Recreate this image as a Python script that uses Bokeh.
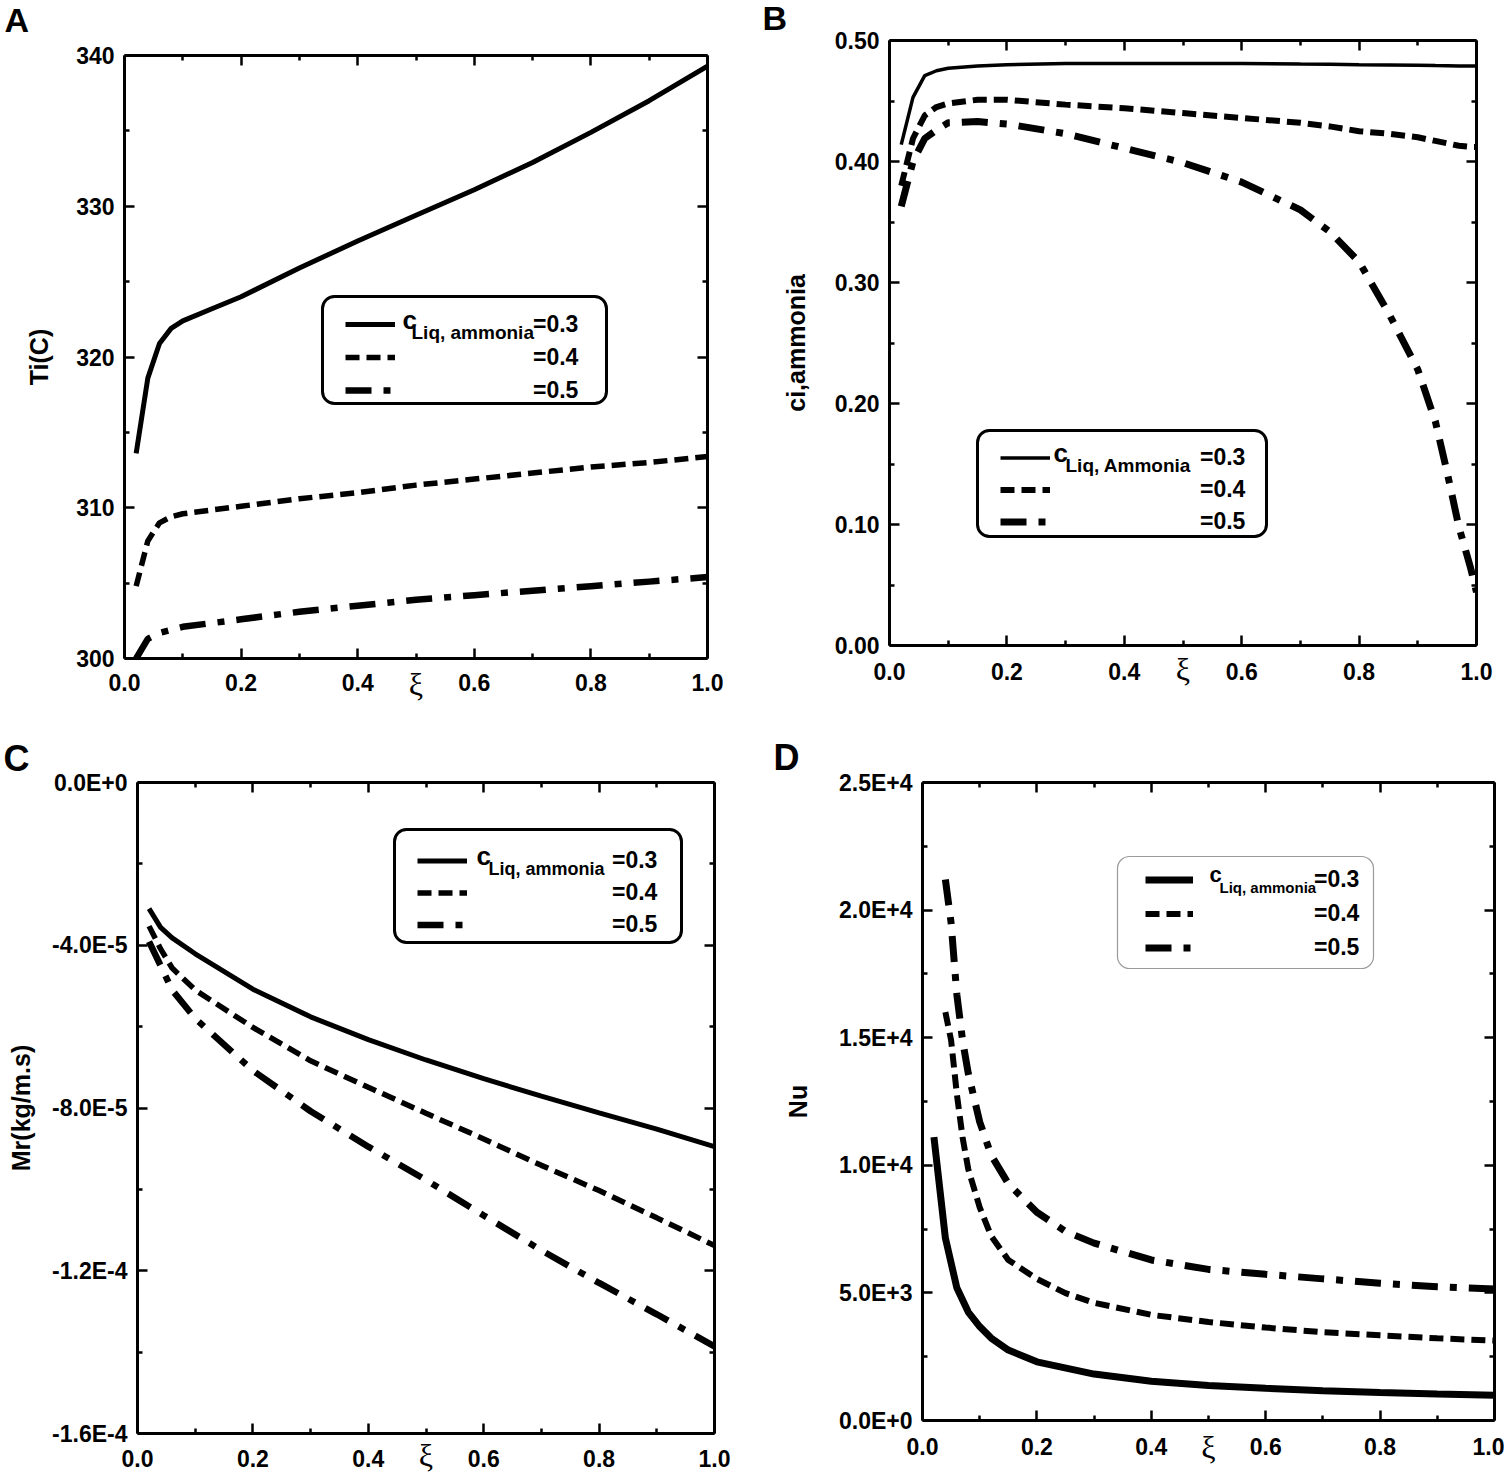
from bokeh.plotting import figure
from bokeh.layouts import column, row
from bokeh.models import (Range1d, FixedTicker, CustomJSTickFormatter, LinearAxis,
                          Legend, LegendItem, Label, BoxAnnotation)
from bokeh.embed import file_html
from bokeh.resources import INLINE

SANS = "Liberation Sans"
SERIF = "Liberation Serif"

# ---- data ----
# (A) interface temperature Ti(C)
xi_a = [0.02, 0.04, 0.06, 0.08, 0.1, 0.15, 0.2, 0.3, 0.4, 0.5, 0.6, 0.7, 0.8, 0.9, 1.0]
ti_03 = [313.6, 318.6, 320.9, 321.9, 322.4, 323.2, 324.0, 325.9, 327.7, 329.4, 331.1, 332.9, 334.9, 337.0, 339.3]
ti_04 = [304.8, 307.8, 309.0, 309.4, 309.6, 309.85, 310.1, 310.6, 311.0, 311.5, 311.9, 312.3, 312.7, 313.0, 313.4]
ti_05 = [300.0, 301.3, 301.7, 301.9, 302.1, 302.35, 302.6, 303.1, 303.5, 303.9, 304.2, 304.5, 304.8, 305.1, 305.4]

# (B) interface ammonia concentration
xi_b = [0.02, 0.04, 0.06, 0.08, 0.1, 0.15, 0.2, 0.3, 0.4, 0.5, 0.6, 0.7, 0.75, 0.8, 0.85, 0.9,
        0.93, 0.95, 0.97, 0.99, 1.0]
ci_03 = [0.414, 0.453, 0.471, 0.475, 0.477, 0.479, 0.480, 0.481, 0.481, 0.481, 0.481, 0.4805, 0.4803,
         0.480, 0.4798, 0.4795, 0.4793, 0.4792, 0.479, 0.479, 0.479]
ci_04 = [0.380, 0.419, 0.438, 0.445, 0.448, 0.451, 0.451, 0.447, 0.444, 0.440, 0.436, 0.432, 0.429,
         0.425, 0.423, 0.420, 0.417, 0.415, 0.413, 0.412, 0.412]
ci_05 = [0.363, 0.400, 0.419, 0.426, 0.432, 0.433, 0.431, 0.423, 0.411, 0.399, 0.383, 0.360, 0.342,
         0.317, 0.275, 0.228, 0.185, 0.143, 0.098, 0.064, 0.044]

# (C) mass flux Mr
xi_c = [0.02, 0.04, 0.06, 0.1, 0.2, 0.3, 0.4, 0.5, 0.6, 0.7, 0.8, 0.9, 1.0]
mr_03 = [-3.10e-5, -3.56e-5, -3.82e-5, -4.21e-5, -5.08e-5, -5.76e-5, -6.32e-5, -6.82e-5, -7.28e-5,
         -7.71e-5, -8.12e-5, -8.52e-5, -8.95e-5]
mr_04 = [-3.53e-5, -4.09e-5, -4.56e-5, -5.10e-5, -6.02e-5, -6.84e-5, -7.49e-5, -8.13e-5, -8.76e-5,
         -9.41e-5, -1.003e-4, -1.070e-4, -1.138e-4]
mr_05 = [-3.91e-5, -4.50e-5, -5.10e-5, -5.80e-5, -7.08e-5, -8.08e-5, -8.95e-5, -9.77e-5, -1.064e-4,
         -1.150e-4, -1.230e-4, -1.307e-4, -1.386e-4]

# (D) Nusselt number
xi_d1 = [0.02, 0.04, 0.06, 0.08, 0.1, 0.12, 0.15, 0.2, 0.3, 0.4, 0.5, 0.6, 0.7, 0.8, 0.9, 1.0]
nu_03 = [11100, 7150, 5200, 4250, 3680, 3230, 2760, 2300, 1820, 1540, 1370, 1260, 1170, 1100, 1040, 990]
xi_d2 = [0.04, 0.05, 0.06, 0.07, 0.08, 0.1, 0.12, 0.15, 0.2, 0.25, 0.3, 0.4, 0.5, 0.6, 0.7, 0.8, 0.9, 1.0]
nu_04 = [16000, 14900, 12800, 11100, 9850, 8350, 7230, 6290, 5550, 4990, 4610, 4140, 3860, 3640, 3460,
         3340, 3220, 3130]
nu_05 = [21200, 19500, 16700, 14900, 13600, 11700, 10400, 9280, 8160, 7410, 6950, 6290, 5920, 5730,
         5550, 5380, 5240, 5150]

# ---- ticks ----
x_ticks = [0.0, 0.2, 0.4, 0.6, 0.8, 1.0]
x_minor = [0.1, 0.3, 0.5, 0.7, 0.9]
ti_ticks = [300, 310, 320, 330, 340]
ti_minor = [305, 315, 325, 335]
ci_ticks = [0.0, 0.1, 0.2, 0.3, 0.4, 0.5]
ci_minor = [0.05, 0.15, 0.25, 0.35, 0.45]
mr_ticks = [-1.6e-4, -1.2e-4, -8e-5, -4e-5, 0.0]
mr_minor = [-1.4e-4, -1.0e-4, -6e-5, -2e-5]
nu_ticks = [0, 5000, 10000, 15000, 20000, 25000]
nu_minor = [2500, 7500, 12500, 17500, 22500]

legend_values = ["=0.3", "=0.4", "=0.5"]

FMT_0 = "return tick.toFixed(0)"
FMT_1 = "return tick.toFixed(1)"
FMT_2 = "return tick.toFixed(2)"
FMT_E = "return tick.toExponential(1).replace('e', 'E')"

DASH = "14 7"
DASHDOT = "26 12 7 12"


def style_axis(ax, ticks, minor, code=None, standoff=10):
    ax.ticker = FixedTicker(ticks=ticks, minor_ticks=minor)
    ax.axis_line_width = 3
    ax.axis_line_color = "black"
    ax.major_tick_in = 10
    ax.major_tick_out = 0
    ax.minor_tick_in = 5
    ax.minor_tick_out = 0
    ax.major_tick_line_width = 2.5
    ax.minor_tick_line_width = 2.5
    ax.major_tick_line_color = "black"
    ax.minor_tick_line_color = "black"
    if code is None:
        ax.formatter = CustomJSTickFormatter(code="return ''")
        ax.major_label_text_font_size = "0px"
        ax.major_label_standoff = 0
    else:
        ax.formatter = CustomJSTickFormatter(code=code)
        ax.major_label_text_font = SANS
        ax.major_label_text_font_style = "bold"
        ax.major_label_text_font_size = "23px"
        ax.major_label_text_color = "black"
        ax.major_label_standoff = standoff


def make_panel(canvas, frame, letter, letter_pos, letter_size, y_rng, y_ticks, y_minor, y_code,
               y_label, y_label_standoff, x_standoff, xi_off, lines, leg):
    x0, y0, x1, y1 = canvas
    fl, ft, fr, fb = frame
    p = figure(frame_width=fr - fl, frame_height=fb - ft,
               min_border_left=fl - x0, min_border_right=x1 - fr,
               min_border_top=ft - y0, min_border_bottom=y1 - fb,
               x_range=Range1d(0, 1), y_range=Range1d(*y_rng), title=None,
               output_backend="svg", toolbar_location=None)
    p.xgrid.visible = False
    p.ygrid.visible = False
    p.outline_line_color = None
    p.background_fill_color = "white"
    p.border_fill_color = "white"

    style_axis(p.xaxis[0], x_ticks, x_minor, FMT_1, x_standoff)
    style_axis(p.yaxis[0], y_ticks, y_minor, y_code, 10)
    yax = p.yaxis[0]
    yax.axis_label = y_label
    yax.axis_label_text_font = SANS
    yax.axis_label_text_font_style = "bold"
    yax.axis_label_text_font_size = "25px"
    yax.axis_label_text_color = "black"
    yax.axis_label_standoff = y_label_standoff

    top_ax = LinearAxis()
    right_ax = LinearAxis()
    style_axis(top_ax, x_ticks, x_minor)
    style_axis(right_ax, y_ticks, y_minor)
    p.add_layout(top_ax, "above")
    p.add_layout(right_ax, "right")

    renderers = []
    for xs, ys, w, dash in lines:
        renderers.append(p.line(xs, ys, line_color="black", line_width=w, line_dash=dash))

    # legend frame (rounded), in screen units relative to the frame
    bl, bt, br, bb = leg["box"]
    p.add_layout(BoxAnnotation(left=bl - fl, right=br - fl, top=fb - bt, bottom=fb - bb,
                               left_units="screen", right_units="screen",
                               top_units="screen", bottom_units="screen",
                               fill_color="white", fill_alpha=1.0,
                               line_color=leg["border"], line_alpha=1.0, line_width=leg["border_w"],
                               border_radius=12, level="annotation"))

    pitch = leg["pitch"]
    h = pitch - 3
    ltop = leg["row1"] - h / 2
    lbottom = ltop + 3 * h + 2 * 3
    legend = Legend(
        items=[LegendItem(label=t, renderers=[r]) for t, r in zip(legend_values, renderers)],
        location=(leg["s0"] - fl, fb - lbottom), orientation="vertical",
        padding=0, margin=0, spacing=3,
        glyph_width=leg["s1"] - leg["s0"], glyph_height=h, label_height=h,
        label_standoff=leg["lab"] - leg["s1"],
        label_text_font=SANS, label_text_font_style="bold", label_text_font_size="23px",
        label_text_color="black", border_line_alpha=0, background_fill_alpha=0)
    p.add_layout(legend)

    p.add_layout(Label(x=leg["cx"] - fl, y=fb - (leg["row1"] - 5), x_units="screen", y_units="screen",
                       text="c", text_font=SANS, text_font_style="bold", text_color="black",
                       text_font_size=leg["c_size"], text_baseline="middle", text_align="left"))
    p.add_layout(Label(x=leg["subx"] - fl, y=fb - (leg["row1"] + 8), x_units="screen", y_units="screen",
                       text=leg["sub"], text_font=SANS, text_font_style="bold", text_color="black",
                       text_font_size=leg["sub_size"], text_baseline="middle", text_align="left"))

    # xi sits between the 0.4 and 0.6 tick labels: an extra label-only axis pulled up
    xi_ax = LinearAxis(ticker=FixedTicker(ticks=[0.5]),
                       formatter=CustomJSTickFormatter(code="return '\u03be'"))
    xi_ax.axis_line_color = None
    xi_ax.major_tick_line_color = None
    xi_ax.minor_tick_line_color = None
    xi_ax.major_label_text_font = SERIF
    xi_ax.major_label_text_font_size = "32px"
    xi_ax.major_label_text_color = "black"
    xi_ax.major_label_standoff = xi_off - x_standoff - 46
    p.add_layout(xi_ax, "below")

    # panel letter, placed in the top border (page coordinates)
    p.add_layout(Label(x=letter_pos[0] - fl, y=ft - letter_pos[1], x_units="screen", y_units="screen",
                       text=letter, text_font=SANS, text_font_style="bold", text_color="black",
                       text_font_size=letter_size, text_align="left", text_baseline="middle"),
                 "above")
    return p


pA = make_panel((0, 0, 760, 730), (124, 55, 707, 658), "A", (4, 19), "34px",
                (300, 340), ti_ticks, ti_minor, FMT_0, "Ti(C)", 20, 15, 27,
                [(xi_a, ti_03, 5, "solid"), (xi_a, ti_04, 5.5, DASH), (xi_a, ti_05, 6.5, DASHDOT)],
                dict(box=(322, 296, 606, 403), s0=345, s1=395, row1=324, pitch=33, lab=533,
                     cx=402, subx=411, sub="Liq, ammonia", sub_size="19px", c_size="26px",
                     border="black", border_w=3))

pB = make_panel((760, 0, 1504, 730), (889, 40, 1476, 645), "B", (762, 17), "34px",
                (0.0, 0.5), ci_ticks, ci_minor, FMT_2, "ci,ammonia", 22, 17, 25,
                [(xi_b, ci_03, 3.5, "solid"), (xi_b, ci_04, 6, DASH), (xi_b, ci_05, 7, DASHDOT)],
                dict(box=(977, 430, 1266, 536), s0=1000, s1=1050, row1=457, pitch=32, lab=1200,
                     cx=1053, subx=1065, sub="Liq, Ammonia", sub_size="19px", c_size="26px",
                     border="black", border_w=3))

pC = make_panel((0, 730, 760, 1476), (137, 782, 714, 1433), "C", (3, 758), "36px",
                (-1.6e-4, 0.0), mr_ticks, mr_minor, FMT_E, "Mr(kg/m.s)", 14, 16, 23,
                [(xi_c, mr_03, 5, "solid"), (xi_c, mr_04, 5.5, DASH), (xi_c, mr_05, 6.5, DASHDOT)],
                dict(box=(394, 829, 681, 942), s0=417, s1=467, row1=860, pitch=32, lab=612,
                     cx=476, subx=488, sub="Liq, ammonia", sub_size="18px", c_size="26px",
                     border="black", border_w=3))

pD = make_panel((760, 730, 1504, 1476), (922, 782, 1494, 1420), "D", (773, 757), "36px",
                (0, 25000), nu_ticks, nu_minor, FMT_E, "Nu", 24, 17, 28,
                [(xi_d1, nu_03, 7, "solid"), (xi_d2, nu_04, 6, DASH), (xi_d2, nu_05, 7, DASHDOT)],
                dict(box=(1117, 856, 1373, 968), s0=1145, s1=1193, row1=879, pitch=34, lab=1314,
                     cx=1209, subx=1219, sub="Liq, ammonia", sub_size="15px", c_size="22px",
                     border="#9a9a9a", border_w=1.2))

# B sits in its own column so that the row does not line its frame up with A's
page = column(row(pA, column(pB)), row(pC, pD))

open("out.html", "w").write(file_html(page, INLINE))
